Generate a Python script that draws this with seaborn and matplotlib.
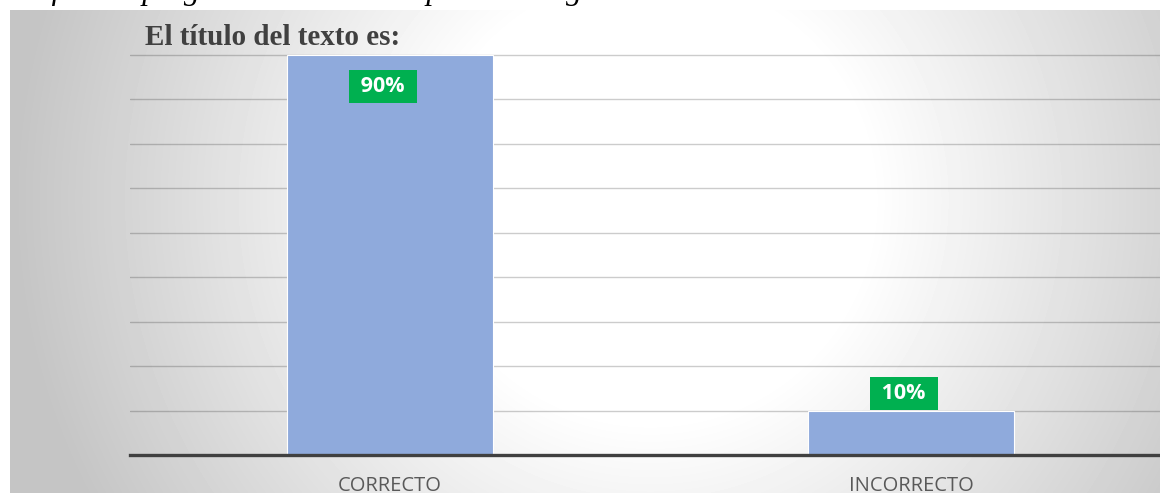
import numpy as np
import pandas as pd
import matplotlib
matplotlib.use("Agg")
import matplotlib.pyplot as plt
import seaborn as sns

# DATOS
categorias = ["CORRECTO", "INCORRECTO"]
porcentajes = [90, 10]
etiquetas = ["90%", "10%"]
titulo = "El título del texto es:"
leyenda = "Gráfico 4: pregunta cuatro de la prueba diagnóstica"

# CONFIGURACION
W, H = 1160, 493
sns.set_style("white")
plt.rcParams['font.family'] = ['Open Sans', 'DejaVu Sans']

fig = plt.figure(figsize=(W / 100, H / 100), dpi=100)
fig.patch.set_facecolor("white")

# Fondo con degradado radial (gris en los bordes, blanco al centro)
bg = fig.add_axes([10 / W, 0, (W - 10) / W, (H - 10) / H])
yy, xx = np.mgrid[10:H, 10:W]
d = np.hypot(xx - 650, yy - 200)
val = np.clip(1 - 0.22 * np.clip(d - 220, 0, None) / 400, 0.77, 1)
bg.imshow(val, cmap="gray", vmin=0, vmax=1, extent=[0, 1, 0, 1], aspect="auto")
bg.axis("off")

# Eje principal
ax = fig.add_axes([129.5 / W, 38 / H, 1042 / W, 445 / H])
ax.patch.set_alpha(0)

df = pd.DataFrame({"categoria": categorias, "porcentaje": porcentajes})
sns.barplot(data=df, x="categoria", y="porcentaje", color="#8faadc",
            saturation=1, width=0.395, edgecolor="white", linewidth=0.8, ax=ax)

ax.set_xlim(-0.5, 1.5)
ax.set_ylim(0, 100)
ax.set_yticks(range(10, 100, 10))
ax.set_yticklabels([])
ax.yaxis.grid(True, color="black", alpha=0.2, lw=1)
ax.set_axisbelow(True)
ax.set_xlabel("")
ax.set_ylabel("")
for s in ["top", "right", "left"]:
    ax.spines[s].set_visible(False)
ax.spines["bottom"].set_color("#404040")
ax.spines["bottom"].set_linewidth(2.4)
ax.tick_params(axis="both", length=0)
ax.tick_params(axis="x", labelsize=14.5, labelcolor="#595959", pad=15)

# Etiquetas de datos
for i, (v, lab) in enumerate(zip(porcentajes, etiquetas)):
    off = -32 if v > 50 else 17
    ax.annotate(f" {lab} ", (i, v), xytext=(-7, off), textcoords="offset pixels",
                ha="center", va="center", color="white", fontsize=15.5,
                fontweight="bold",
                bbox=dict(boxstyle="square,pad=0.3", fc="#00b050", ec="none"))

# Titulo y leyenda superior (recortada)
fig.text(145 / W, 1 - 45 / H, titulo, family="Liberation Serif",
         fontweight="bold", fontsize=21, color="#404040", va="baseline")
fig.text(0, 1 + 0.5 / H, leyenda, family="Liberation Serif", style="italic",
         fontsize=23, color="black", va="baseline")

fig.savefig("out.png", dpi=100)
